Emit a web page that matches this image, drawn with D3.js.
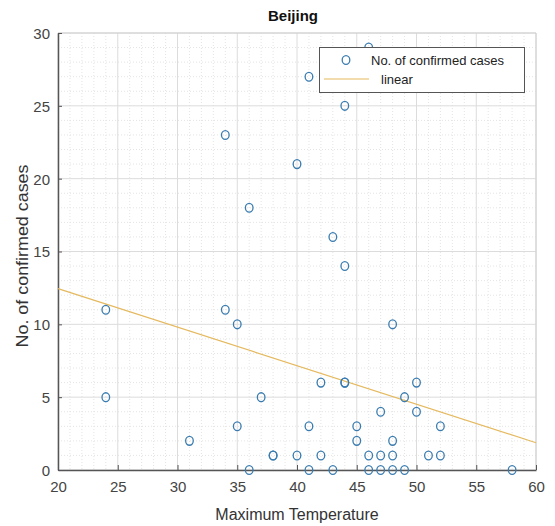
<!DOCTYPE html>
<html>
<head>
<meta charset="utf-8">
<script src="https://cdn.jsdelivr.net/npm/d3@7"></script>
<style>
  body { margin: 0; background: #fff; }
  svg { display: block; font-family: "Liberation Sans", Arial, sans-serif; }
</style>
</head>
<body>
<svg id="chart" width="555" height="526"></svg>
<script>
// data
const tempX = [24, 24, 31, 34, 34, 35, 35, 36, 36, 37, 38, 38, 40, 40, 41, 41, 41,
  42, 42, 43, 43, 44, 44, 44, 44, 45, 45, 46, 46, 46, 47, 47, 47, 48, 48, 48, 48,
  49, 49, 50, 50, 51, 52, 52, 58];
const casesY = [11, 5, 2, 23, 11, 10, 3, 18, 0, 5, 1, 1, 21, 1, 27, 3, 0,
  6, 1, 16, 0, 25, 14, 6, 6, 3, 2, 29, 1, 0, 4, 1, 0, 10, 2, 1, 0,
  5, 0, 6, 4, 1, 3, 1, 0];
// linear fit endpoints
const fitX = [20, 60];
const fitY = [12.45, 1.87];
const xTicks = [20, 25, 30, 35, 40, 45, 50, 55, 60];
const yTicks = [0, 5, 10, 15, 20, 25, 30];
const legendLabels = ["No. of confirmed cases", "linear"];

const svg = d3.select("#chart");
const pL = 58, pR = 536, pT = 33, pB = 470;

const x = d3.scaleLinear().domain([20, 60]).range([pL, pR]);
const y = d3.scaleLinear().domain([0, 30]).range([pB, pT]);

const ptColor = "#3a7cb0";
const fitColor = "#e5b95e";

// minor grid (dotted)
svg.append("g")
  .selectAll("line")
  .data(d3.range(21, 60).filter(v => v % 5 !== 0))
  .join("line")
  .attr("x1", d => x(d)).attr("x2", d => x(d))
  .attr("y1", pT).attr("y2", pB)
  .attr("stroke", "#e4e4e4").attr("stroke-dasharray", "1,2");
svg.append("g")
  .selectAll("line")
  .data(d3.range(1, 30).filter(v => v % 5 !== 0))
  .join("line")
  .attr("x1", pL).attr("x2", pR)
  .attr("y1", d => y(d)).attr("y2", d => y(d))
  .attr("stroke", "#e4e4e4").attr("stroke-dasharray", "1,2");

// major grid
svg.append("g")
  .selectAll("line")
  .data(xTicks)
  .join("line")
  .attr("x1", d => x(d)).attr("x2", d => x(d))
  .attr("y1", pT).attr("y2", pB)
  .attr("stroke", "#dcdcdc");
svg.append("g")
  .selectAll("line")
  .data(yTicks)
  .join("line")
  .attr("x1", pL).attr("x2", pR)
  .attr("y1", d => y(d)).attr("y2", d => y(d))
  .attr("stroke", "#dcdcdc");

// box edges top/right
svg.append("path")
  .attr("d", `M${pL},${pT}H${pR}V${pB}`)
  .attr("fill", "none").attr("stroke", "#d0d0d0");

// axes
const xAxis = svg.append("g")
  .attr("transform", `translate(0,${pB})`)
  .call(d3.axisBottom(x).tickValues(xTicks).tickSizeInner(-5).tickSizeOuter(0).tickPadding(11));
const yAxis = svg.append("g")
  .attr("transform", `translate(${pL},0)`)
  .call(d3.axisLeft(y).tickValues(yTicks).tickSizeInner(-4).tickSizeOuter(0).tickPadding(8));
[xAxis, yAxis].forEach(a => {
  a.select(".domain").attr("stroke", "#555").attr("stroke-width", 1.5);
  a.selectAll(".tick line").attr("stroke", "#555");
  a.selectAll(".tick text").attr("fill", "#444").style("font-size", "15px")
    .style("font-family", "'Liberation Sans', Arial, sans-serif");
});
yAxis.selectAll(".tick text").attr("dy", "0.36em");

// fit line
svg.append("path")
  .datum(fitX.map((v, i) => [v, fitY[i]]))
  .attr("fill", "none")
  .attr("stroke", fitColor)
  .attr("stroke-width", 1.2)
  .attr("d", d3.line().x(d => x(d[0])).y(d => y(d[1])));

// points
svg.append("g")
  .selectAll("ellipse")
  .data(tempX.map((v, i) => [v, casesY[i]]))
  .join("ellipse")
  .attr("cx", d => x(d[0]))
  .attr("cy", d => y(d[1]))
  .attr("rx", 3.8).attr("ry", 4.4)
  .attr("fill", "none")
  .attr("stroke", ptColor)
  .attr("stroke-width", 1.3);

// title and labels
svg.append("text")
  .attr("x", 293).attr("y", 21)
  .attr("text-anchor", "middle")
  .style("font-size", "15px").style("font-weight", "bold")
  .attr("fill", "#111")
  .text("Beijing");

svg.append("text")
  .attr("x", 297).attr("y", 520)
  .attr("text-anchor", "middle")
  .style("font-size", "16px")
  .attr("fill", "#333")
  .text("Maximum Temperature");

svg.append("text")
  .attr("transform", "translate(28,256) rotate(-90)")
  .attr("text-anchor", "middle")
  .style("font-size", "16px")
  .attr("textLength", 183).attr("lengthAdjust", "spacingAndGlyphs")
  .attr("fill", "#333")
  .text("No. of confirmed cases");

// legend
const lg = svg.append("g");
lg.append("rect")
  .attr("x", 319.5).attr("y", 47.5)
  .attr("width", 205).attr("height", 45)
  .attr("fill", "#fff").attr("stroke", "#555");
lg.append("ellipse")
  .attr("cx", 346).attr("cy", 60)
  .attr("rx", 3.8).attr("ry", 4.4)
  .attr("fill", "none").attr("stroke", ptColor).attr("stroke-width", 1.3);
lg.append("line")
  .attr("x1", 324).attr("x2", 369)
  .attr("y1", 79).attr("y2", 79)
  .attr("stroke", fitColor).attr("stroke-width", 1.2);
lg.selectAll("text.lbl")
  .data(legendLabels)
  .join("text")
  .attr("class", "lbl")
  .attr("x", (d, i) => i === 0 ? 371 : 381)
  .attr("y", (d, i) => i === 0 ? 64.5 : 83.5)
  .style("font-size", "13px")
  .attr("fill", "#222")
  .text(d => d);
</script>
</body>
</html>
